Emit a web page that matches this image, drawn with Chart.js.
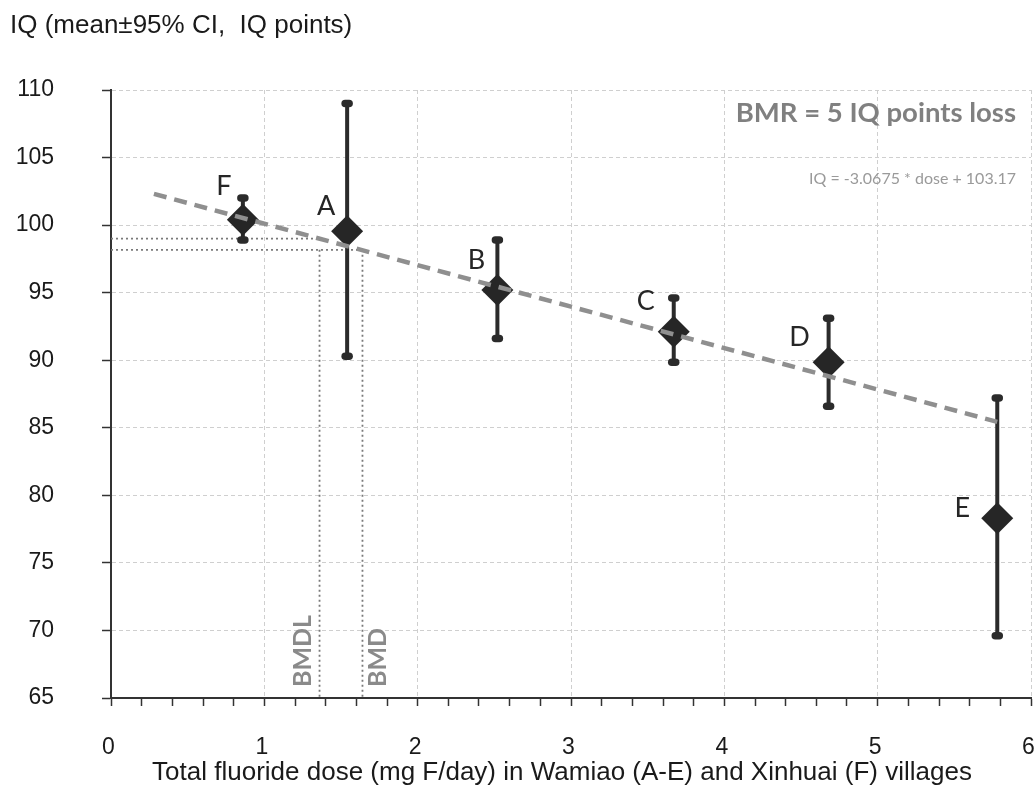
<!DOCTYPE html>
<html>
<head>
<meta charset="utf-8">
<script src="https://cdn.jsdelivr.net/npm/chart.js@4.4.1/dist/chart.umd.min.js"></script>
<style>
  html, body { margin: 0; padding: 0; background: #fff; }
  #wrap { width: 1036px; height: 788px; }
</style>
</head>
<body>
<div id="wrap"><canvas id="chartIQ" width="1036" height="788"></canvas></div>
<script>
// Villages, dose (mg F/day) and IQ mean with 95% CI
const villages = ["F", "A", "B", "C", "D", "E"];
const dose = [0.86, 1.54, 2.52, 3.67, 4.68, 5.78];
const iqMean = [100.4, 99.55, 95.2, 92.1, 89.85, 78.3];
const ciLow = [98.9, 90.3, 91.6, 89.85, 86.6, 69.6];
const ciHigh = [102.0, 109.0, 98.9, 94.6, 93.1, 87.2];

// Linear trend (IQ = -3.0675 * dose + 103.17) drawn between its end points
const trendDose = [0.28, 5.78];
const trendIQ = [102.31, 85.44];

// Benchmark dose markers
const bmdLabels = ["BMDL", "BMD"];
const bmdDose = [1.36, 1.64];
const bmdIQ = [99.0, 98.17];

const yTicks = [65, 70, 75, 80, 85, 90, 95, 100, 105, 110];

const xTitle = "Total fluoride dose (mg F/day) in Wamiao (A-E) and Xinhuai (F) villages";

// label offsets in pixels (style only)
const labelOffset = {
  F: [-19, -33], A: [-21, -25], B: [-21, -30],
  C: [-28, -31], D: [-29, -25], E: [-35, -10]
};

const isInt = (v) => Math.abs(v - Math.round(v)) < 1e-6;

const dibujos = {
  id: "dibujos",
  beforeDatasetsDraw(chart) {
    const { ctx, scales: { x, y } } = chart;
    const y0 = y.getPixelForValue(65);

    // lineas punteadas BMDL / BMD
    ctx.save();
    ctx.strokeStyle = "#7a7a7a";
    ctx.lineWidth = 1.8;
    ctx.setLineDash([2, 3]);
    bmdDose.forEach((d, i) => {
      const px = x.getPixelForValue(d);
      const py = y.getPixelForValue(bmdIQ[i]);
      ctx.beginPath();
      ctx.moveTo(x.getPixelForValue(0), py);
      ctx.lineTo(px, py);
      ctx.stroke();
      ctx.beginPath();
      ctx.moveTo(px, y.getPixelForValue(bmdIQ[1]));
      ctx.lineTo(px, y0);
      ctx.stroke();
    });
    ctx.restore();

    // barras de error
    ctx.save();
    ctx.strokeStyle = "#2b2b2b";
    dose.forEach((d, i) => {
      const px = x.getPixelForValue(d);
      const top = y.getPixelForValue(ciHigh[i]);
      const bot = y.getPixelForValue(ciLow[i]);
      ctx.lineWidth = 4;
      ctx.lineCap = "butt";
      ctx.beginPath();
      ctx.moveTo(px, top);
      ctx.lineTo(px, bot);
      ctx.stroke();
      ctx.lineWidth = 7.5;
      ctx.lineCap = "round";
      [top, bot].forEach((py) => {
        ctx.beginPath();
        ctx.moveTo(px - 2, py);
        ctx.lineTo(px + 2, py);
        ctx.stroke();
      });
    });
    ctx.restore();

    // textos BMDL / BMD giradas
    ctx.save();
    ctx.fillStyle = "#8a8a8a";
    ctx.font = "bold 25px Lato";
    ctx.textAlign = "left";
    ctx.textBaseline = "middle";
    bmdDose.forEach((d, i) => {
      const px = x.getPixelForValue(d) + (i === 0 ? -17 : 15);
      ctx.save();
      ctx.translate(px, y0 - 11);
      ctx.rotate(-Math.PI / 2);
      ctx.fillText(bmdLabels[i], 0, 0);
      ctx.restore();
    });
    ctx.restore();
  },
  afterDatasetsDraw(chart) {
    const { ctx, chartArea, scales: { x, y } } = chart;

    // letras de las aldeas
    ctx.save();
    ctx.fillStyle = "#262626";
    ctx.font = "27px Lato";
    ctx.textAlign = "center";
    ctx.textBaseline = "middle";
    villages.forEach((v, i) => {
      const off = labelOffset[v];
      ctx.fillText(v, x.getPixelForValue(dose[i]) + off[0], y.getPixelForValue(iqMean[i]) + off[1]);
    });

    // BMR y ecuacion
    ctx.textAlign = "right";
    ctx.textBaseline = "alphabetic";
    ctx.fillStyle = "#808080";
    ctx.font = "bold 27.5px Lato";
    ctx.fillText("BMR = 5 IQ points loss", chartArea.right - 15, chartArea.top + 32);
    ctx.fillStyle = "#9a9a9a";
    ctx.font = "16px Lato";
    ctx.fillText("IQ = -3.0675 * dose + 103.17", chartArea.right - 15, chartArea.top + 94);
    ctx.restore();
  },
  afterDraw(chart) {
    const { ctx, chartArea } = chart;
    ctx.save();
    ctx.fillStyle = "#1a1a1a";
    ctx.font = "26px 'Liberation Sans', Arial";
    ctx.textAlign = "left";
    ctx.textBaseline = "alphabetic";
    ctx.fillText("IQ (mean\u00b195% CI,  IQ points)", 10, 33);

    // titulo del eje x
    ctx.textAlign = "center";
    ctx.textBaseline = "middle";
    ctx.fillText(xTitle, (chartArea.left + chartArea.right) / 2 - 9, chartArea.bottom + 75);
    ctx.restore();
  }
};

new Chart(document.getElementById("chartIQ"), {
  type: "scatter",
  data: {
    datasets: [
      {
        type: "line",
        label: "Trend",
        data: trendDose.map((d, i) => ({ x: d, y: trendIQ[i] })),
        borderColor: "#8f8f8f",
        borderWidth: 4.5,
        borderDash: [13, 8],
        pointRadius: 0,
        fill: false,
        order: 0
      },
      {
        label: "IQ",
        data: dose.map((d, i) => ({ x: d, y: iqMean[i] })),
        pointStyle: "rectRot",
        pointRadius: 16,
        pointHoverRadius: 16,
        backgroundColor: "#262626",
        borderWidth: 0,
        order: 1
      }
    ]
  },
  options: {
    responsive: false,
    animation: false,
    layout: { autoPadding: false, padding: { top: 90, right: 5, left: 0, bottom: 0 } },
    plugins: {
      legend: { display: false },
      tooltip: { enabled: false }
    },
    scales: {
      x: {
        type: "linear",
        min: 0,
        max: 6,
        afterFit: (s) => { s.height = 90; s.paddingLeft = 0; s.paddingRight = 0; },
        ticks: {
          stepSize: 0.2,
          autoSkip: false,
          maxRotation: 0,
          padding: 28,
          labelOffset: -2.5,
          color: "#1a1a1a",
          font: { family: "'Liberation Sans', Arial", size: 23 },
          callback: (v) => (isInt(v) ? String(Math.round(v)) : "")
        },
        grid: {
          color: (c) => (c.tick && isInt(c.tick.value) && c.tick.value !== 0 ? "#cfcfcf" : "rgba(0,0,0,0)"),
          tickColor: "#333",
          tickLength: 8,
          tickWidth: 1.5,
          lineWidth: 1
        },
        border: { display: true, color: "#333", width: 2, dash: [4, 3] }
      },
      y: {
        min: 65,
        max: 110,
        afterFit: (s) => { s.width = 111; },
        afterBuildTicks: (s) => { s.ticks = yTicks.map((v) => ({ value: v })); },
        ticks: {
          padding: 48,
          color: "#1a1a1a",
          font: { family: "'Liberation Sans', Arial", size: 23 }
        },
        grid: {
          color: (c) => (c.tick && c.tick.value !== 65 ? "#cfcfcf" : "rgba(0,0,0,0)"),
          tickColor: "#333",
          tickLength: 9,
          tickWidth: 1.5,
          lineWidth: 1
        },
        border: { display: true, color: "#333", width: 2, dash: [4, 3] }
      }
    }
  },
  plugins: [dibujos]
});
</script>
</body>
</html>
